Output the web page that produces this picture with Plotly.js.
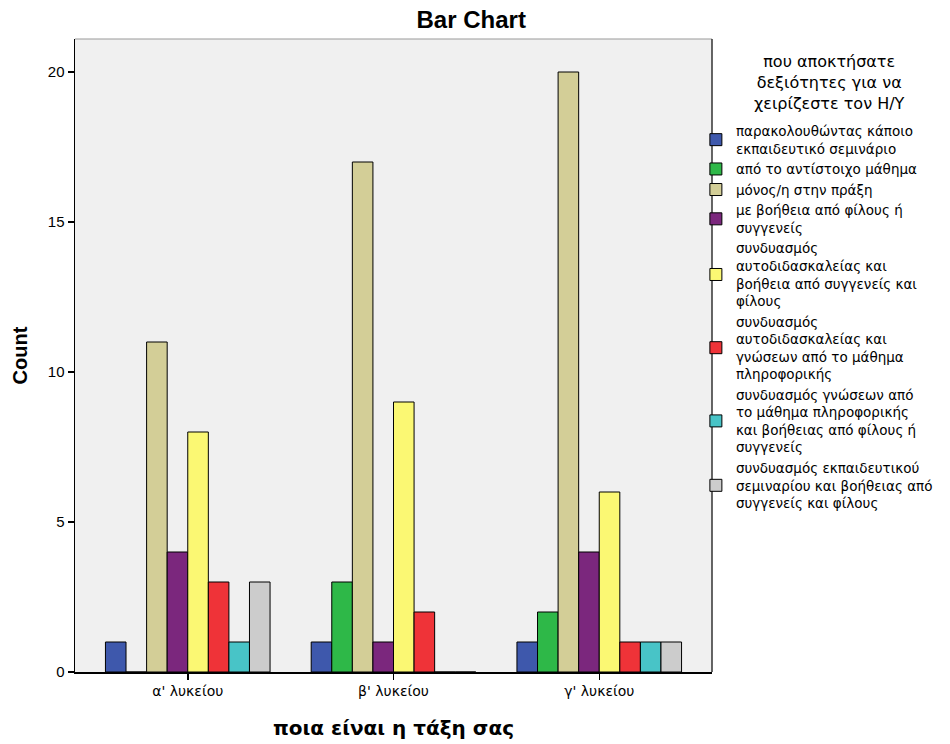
<!DOCTYPE html>
<html>
<head>
<meta charset="utf-8">
<script src="https://cdn.plot.ly/plotly-3.0.1.min.js"></script>
<style>html,body{margin:0;padding:0;background:#fff;}#chart{width:950px;height:744px;}</style>
</head>
<body>
<div id="chart"></div>
<script>
const categories = ["α' λυκείου", "β' λυκείου", "γ' λυκείου"];
const seriesNames = [
  "παρακολουθώντας κάποιο<br>εκπαιδευτικό σεμινάριο",
  "από το αντίστοιχο μάθημα",
  "μόνος/η στην πράξη",
  "με βοήθεια από φίλους ή<br>συγγενείς",
  "συνδυασμός<br>αυτοδιδασκαλείας και<br>βοήθεια από συγγενείς και<br>φίλους",
  "συνδυασμός<br>αυτοδιδασκαλείας και<br>γνώσεων από το μάθημα<br>πληροφορικής",
  "συνδυασμός γνώσεων από<br>το μάθημα πληροφορικής<br>και βοήθειας από φίλους ή<br>συγγενείς",
  "συνδυασμός εκπαιδευτικού<br>σεμιναρίου και βοήθειας από<br>συγγενείς και φίλους"
];
const seminar = [1, 1, 1];
const course = [0, 3, 2];
const selfTaught = [11, 17, 20];
const friends = [4, 1, 4];
const selfAndFriends = [8, 9, 6];
const selfAndCourse = [3, 2, 1];
const courseAndFriends = [1, 0, 1];
const seminarAndFriends = [3, 0, 1];
const seriesValues = [seminar, course, selfTaught, friends, selfAndFriends, selfAndCourse, courseAndFriends, seminarAndFriends];
const colors = ["#3E58AC", "#2EB848", "#D3CE97", "#7B277D", "#FBF873", "#EF3338", "#48C4C7", "#CCCCCC"];
const legendTitle = "που αποκτήσατε<br>δεξιότητες για να<br>χειρίζεστε τον Η/Υ";
const chartTitle = "Bar Chart";
const xTitle = "ποια είναι η τάξη σας";
const yTitle = "Count";
const yTicks = [0, 5, 10, 15, 20];

const FONT = "Liberation Sans, Arial, sans-serif";
const WIDE = "DejaVu Sans, Liberation Sans, sans-serif";

const traces = seriesValues.map((vals, i) => ({
  type: 'bar',
  x: categories,
  y: vals,
  name: seriesNames[i],
  marker: {color: colors[i], line: {color: '#000', width: 1}},
  hoverinfo: 'skip'
}));

const layout = {
  width: 950, height: 744,
  margin: {l: 75, r: 238, t: 39, b: 72},
  paper_bgcolor: '#ffffff',
  plot_bgcolor: '#F0F0F0',
  font: {family: FONT, color: '#000', size: 14},
  title: {text: chartTitle, font: {family: FONT, size: 24, weight: 'bold'}, x: 0.496, xanchor: 'center', y: 0.973, yanchor: 'middle'},
  barmode: 'group',
  bargap: 0.2,
  bargroupgap: 0,
  showlegend: true,
  legend: {
    x: 0.9747, xanchor: 'left', y: 0.879, yanchor: 'top',
    bgcolor: 'rgba(0,0,0,0)',
    font: {family: WIDE, size: 13.5},
    traceorder: 'normal',
    itemwidth: 30,
    tracegroupgap: 0
  },
  xaxis: {
    type: 'category',
    range: [-0.548, 2.548],
    showline: true, linecolor: '#000', linewidth: 1.5,
    ticks: 'outside', ticklen: 6, tickcolor: '#000', tickwidth: 1.5,
    tickfont: {family: WIDE, size: 14},
    showgrid: false, zeroline: false,
    title: {text: xTitle, font: {family: WIDE, size: 20, weight: 'bold'}, standoff: 22}
  },
  yaxis: {
    range: [0, 21.1],
    tickvals: yTicks,
    showline: true, linecolor: '#000', linewidth: 1.5,
    ticks: 'outside', ticklen: 6, tickcolor: '#000', tickwidth: 1.5,
    tickfont: {family: FONT, size: 15},
    showgrid: false, zeroline: false,
    title: {text: yTitle, font: {family: FONT, size: 20, weight: 'bold'}, standoff: 15}
  },
  annotations: [
    {xref: 'paper', yref: 'paper', x: 1.1837, y: 0.932, xanchor: 'center', yanchor: 'middle',
     text: legendTitle, showarrow: false, align: 'center', font: {family: WIDE, size: 16}}
  ],
  shapes: [
    {type: 'line', xref: 'paper', yref: 'paper', x0: 0, x1: 1, y0: 1, y1: 1, line: {color: '#999', width: 1}},
    {type: 'line', xref: 'paper', yref: 'paper', x0: 1, x1: 1, y0: 0, y1: 1, line: {color: '#333', width: 1.5}}
  ]
};

Plotly.newPlot('chart', traces, layout, {displayModeBar: false, staticPlot: true});
</script>
</body>
</html>
